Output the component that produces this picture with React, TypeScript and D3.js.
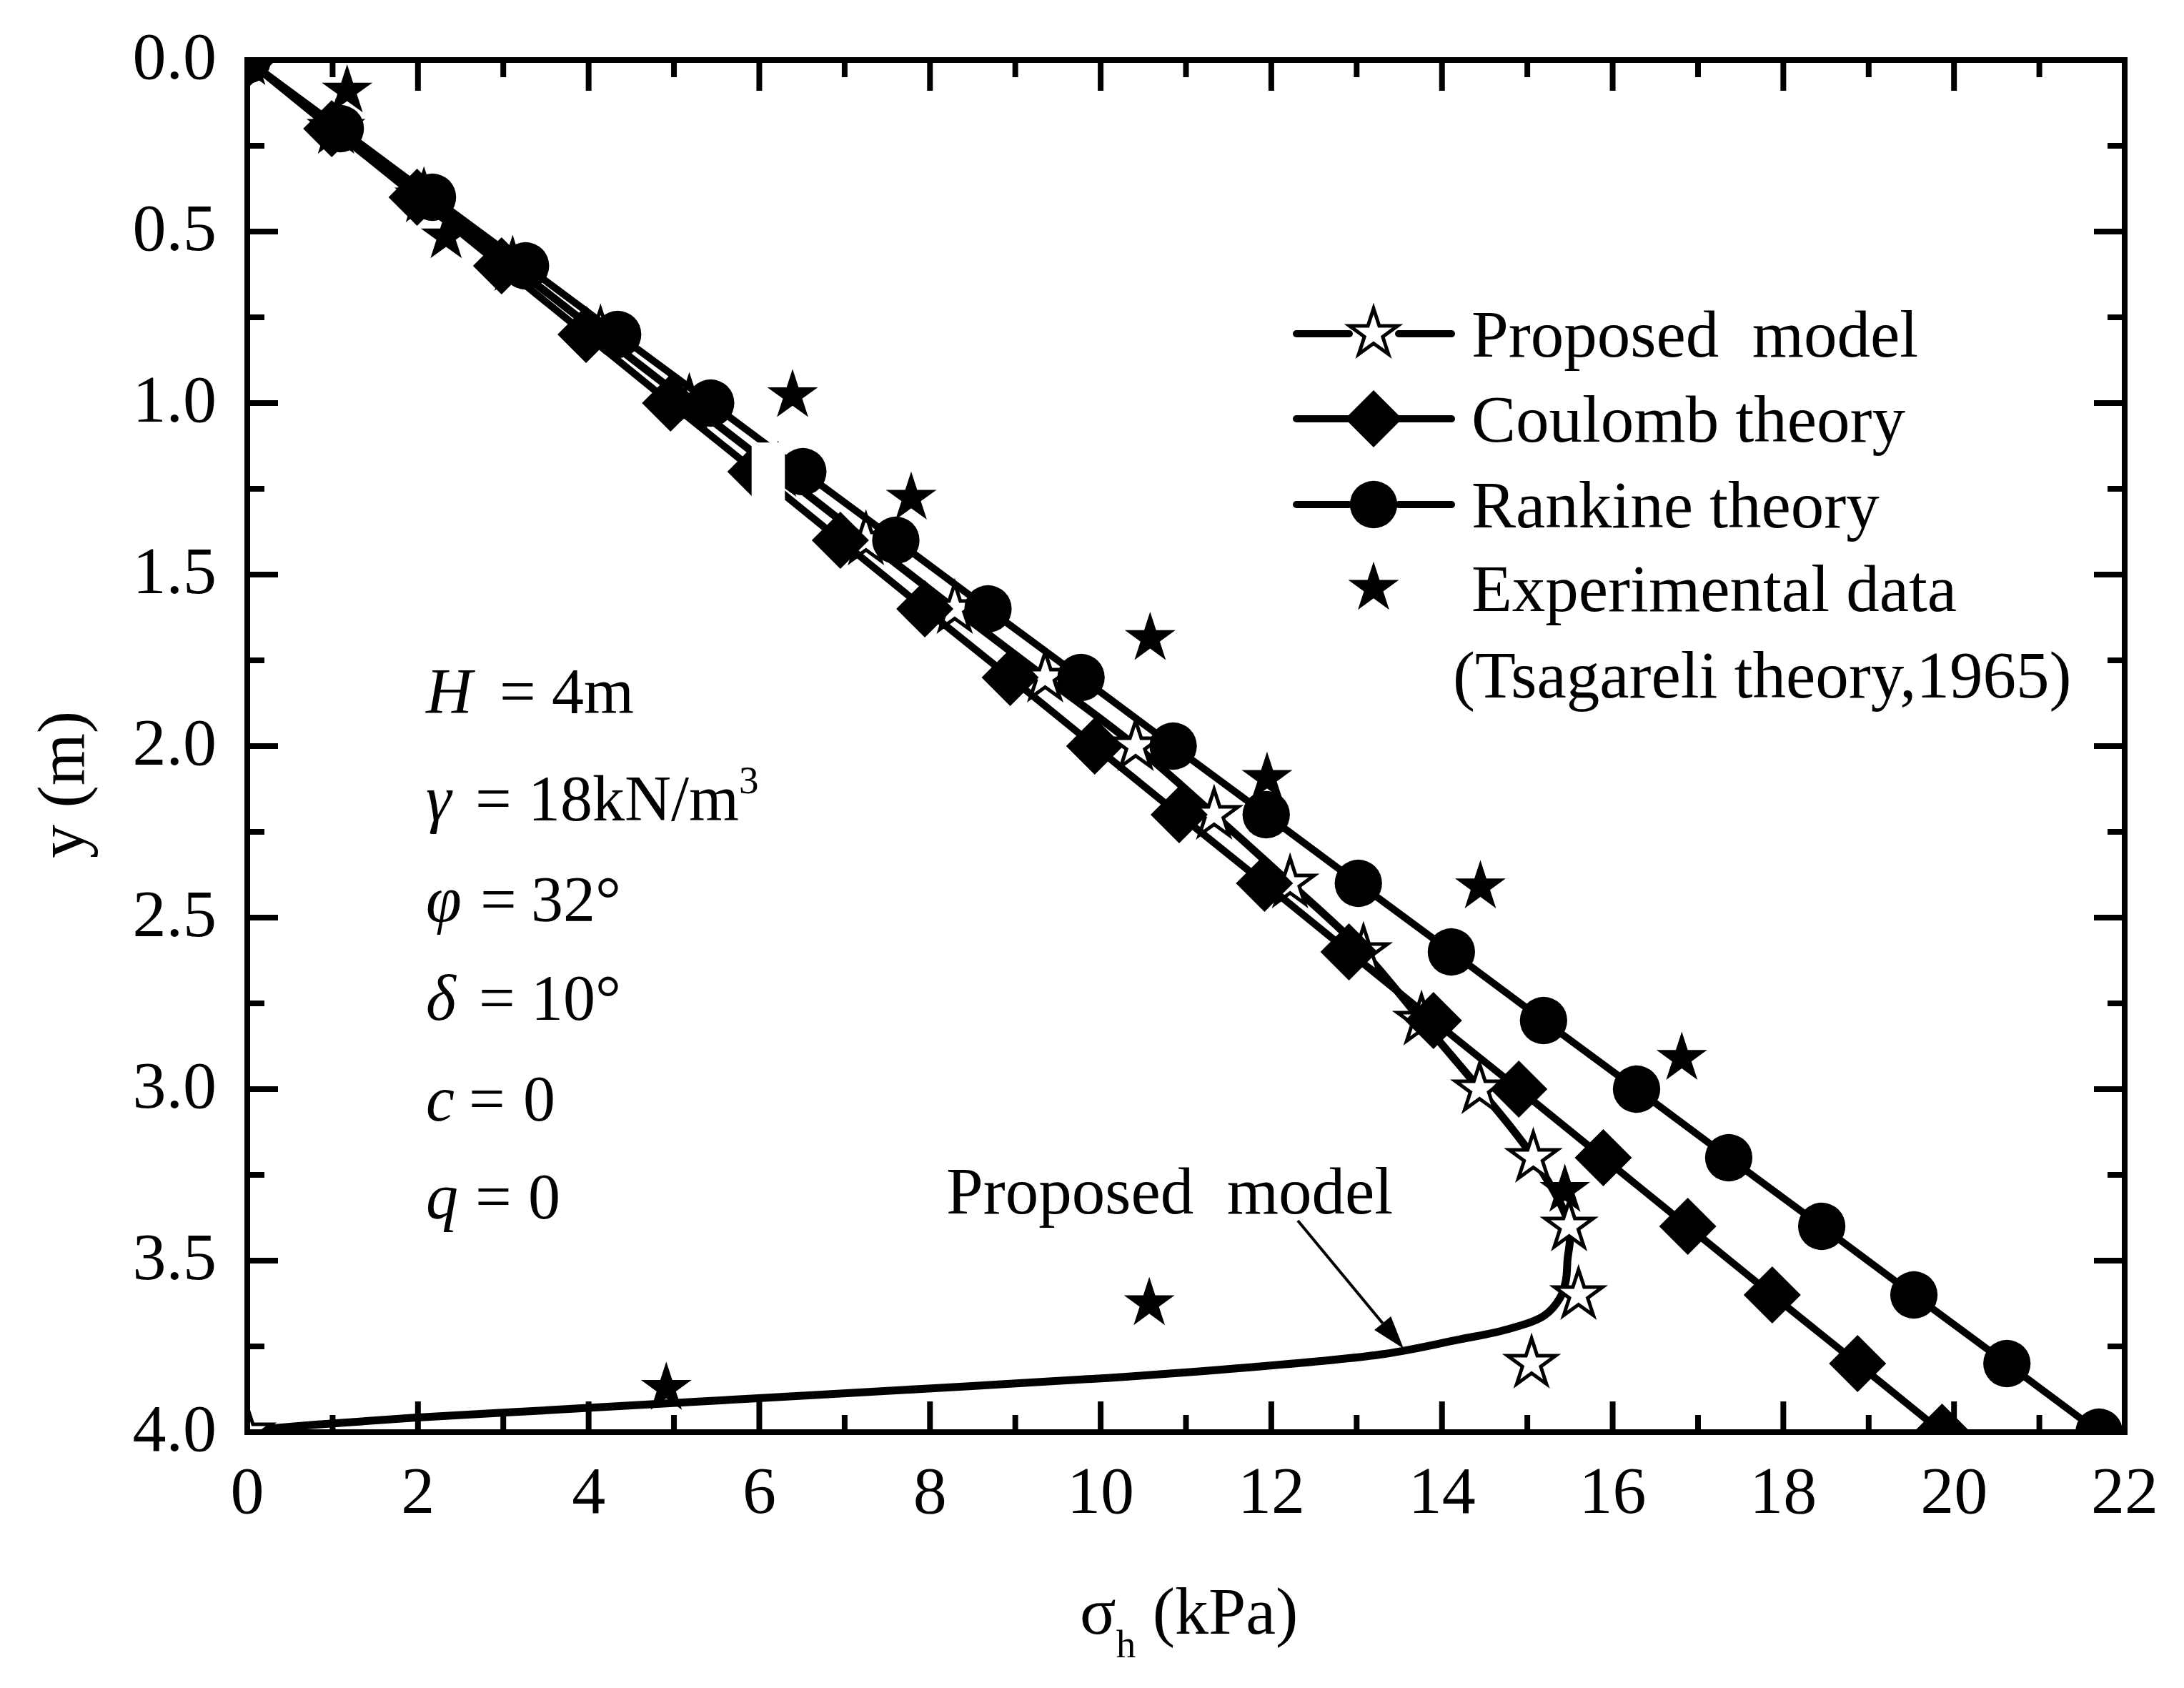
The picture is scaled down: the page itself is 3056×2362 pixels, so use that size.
import React from "react";
import * as d3 from "d3";

// depth below the top of the wall (m), one row per marker
const depthSteps = [0, 0.2, 0.4, 0.6, 0.8, 1.0, 1.2, 1.4, 1.6, 1.8, 2.0, 2.2, 2.4, 2.6, 2.8, 3.0, 3.2, 3.4, 3.6, 3.8, 4.0];

// horizontal earth pressure (kPa)
const coulombSigma = [0, 0.99, 1.99, 2.98, 3.97, 4.96, 5.96, 6.95, 7.94, 8.94, 9.93, 10.92, 11.92, 12.91, 13.9, 14.9, 15.89, 16.88, 17.87, 18.87, 19.86];
const rankineSigma = [0, 1.09, 2.17, 3.26, 4.34, 5.43, 6.51, 7.6, 8.68, 9.77, 10.85, 11.94, 13.02, 14.11, 15.19, 16.28, 17.36, 18.45, 19.53, 20.62, 21.7];
const proposedSigma = [0, 1.04, 2.07, 3.11, 4.14, 5.18, 6.22, 7.25, 8.29, 9.35, 10.41, 11.33, 12.22, 13.08, 13.76, 14.44, 15.07, 15.49, 15.6, 15.05, 0];

// the drawn curve of the proposed model (denser near the base)
const proposedCurveDepth = [0, 0.2, 0.4, 0.6, 0.8, 1.0, 1.2, 1.4, 1.6, 1.8, 2.0, 2.2, 2.4, 2.6, 2.8, 3.0, 3.2, 3.4, 3.5, 3.56, 3.61, 3.66, 3.7, 3.73, 3.772, 3.812, 3.842, 3.866, 3.889, 3.912, 3.935, 3.958, 3.978, 3.995];
const proposedCurveSigma = [0, 1.04, 2.07, 3.11, 4.14, 5.18, 6.22, 7.25, 8.29, 9.35, 10.41, 11.33, 12.22, 13.08, 13.76, 14.44, 15.07, 15.49, 15.47, 15.45, 15.38, 15.2, 14.77, 14.2, 13.33, 11.7, 10.08, 8.46, 6.84, 5.21, 3.59, 1.96, 0.8, 0];

// Tsagareli (1965) experimental points
const expSigma = [1.17, 2.33, 6.39, 7.78, 10.58, 11.95, 14.45, 16.81, 15.44, 10.57, 4.91];
const expDepth = [0.09, 0.515, 0.978, 1.277, 1.686, 2.094, 2.41, 2.91, 3.295, 3.625, 3.872];

const xTickLabels = [0, 2, 4, 6, 8, 10, 12, 14, 16, 18, 20, 22];
const yTickLabels = ["0.0", "0.5", "1.0", "1.5", "2.0", "2.5", "3.0", "3.5", "4.0"];

const legendLabels = ["Proposed  model", "Coulomb theory", "Rankine theory", "Experimental data"];

// white patch that hides part of the curves near y = 1.2 in the original
const maskSigma = [5.91, 6.3];
const maskDepth = [1.115, 1.3];

const W = 3056;
const H = 2362;
const left = 346;
const right = 2973;
const top = 84;
const bottom = 2004;
const FONT = "'Liberation Serif', 'Times New Roman', serif";

const x = d3.scaleLinear().domain([0, 22]).range([left, right]);
const y = d3.scaleLinear().domain([0, 4]).range([top, bottom]);

const starOpen = d3.symbol(d3.symbolStar, 1400)() as string;
const starFilled = d3.symbol(d3.symbolStar, 1560)() as string;
const diamond = d3.symbol(d3.symbolSquare, 3200)() as string;
const circle = d3.symbol(d3.symbolCircle, 3450)() as string;

function Marker({ kind, cx, cy }: { kind: string; cx: number; cy: number }) {
  if (kind === "open")
    return <path d={starOpen} transform={`translate(${cx},${cy})`} fill="#fff" stroke="#000" strokeWidth={5} strokeLinejoin="miter" />;
  if (kind === "diamond")
    return <path d={diamond} transform={`translate(${cx},${cy}) rotate(45)`} fill="#000" />;
  if (kind === "circle") return <path d={circle} transform={`translate(${cx},${cy})`} fill="#000" />;
  return <path d={starFilled} transform={`translate(${cx},${cy})`} fill="#000" />;
}

const params = [
  { v: "H", eq: 699, val: "4m", vx: 772, sup: "" },
  { v: "γ", eq: 665, val: "18kN/m", vx: 739, sup: "3" },
  { v: "φ", eq: 672, val: "32°", vx: 743, sup: "" },
  { v: "δ", eq: 670, val: "10°", vx: 743, sup: "" },
  { v: "c", eq: 656, val: "0", vx: 732, sup: "" },
  { v: "q", eq: 665, val: "0", vx: 739, sup: "" },
];
const paramBaselines = [998, 1148, 1289, 1427, 1568, 1705];

export default function App() {
  const straight = (sig: number[], dep: number[]) =>
    d3.line<number>().x((d) => x(d)).y((_, i) => y(dep[i]))(sig) as string;

  const curve = d3
    .line<number>()
    .x((d) => x(d))
    .y((_, i) => y(proposedCurveDepth[i]))
    .curve(d3.curveCatmullRom.alpha(0.5))(proposedCurveSigma) as string;

  const xMinor = d3.range(1, 22, 2);
  const yMinor = d3.range(0.25, 4, 0.5);
  const yMajor = yTickLabels.map((t) => +t);

  const legendRows = [467, 586, 706, 823];
  const legendKinds = ["open", "diamond", "circle", "filled"];

  // arrow of the "Proposed model" note
  const ax0 = 1816, ay0 = 1708, ax1 = 1964, ay1 = 1887;
  const ang = Math.atan2(ay1 - ay0, ax1 - ax0);
  const hl = 46, hw = 15;
  const bx = ax1 - hl * Math.cos(ang), by = ay1 - hl * Math.sin(ang);
  const head = `M${ax1},${ay1} L${bx + hw * Math.sin(ang)},${by - hw * Math.cos(ang)} L${bx - hw * Math.sin(ang)},${by + hw * Math.cos(ang)} Z`;

  return (
    <div style={{ position: "absolute", left: 0, top: 0, background: "#fff" }}>
      <svg width={W} height={H} viewBox={`0 0 ${W} ${H}`} style={{ display: "block", fontFamily: FONT }}>
        <rect width={W} height={H} fill="#fff" />
        <defs>
          <clipPath id="plot">
            <rect x={left} y={top} width={right - left} height={bottom - top} />
          </clipPath>
        </defs>

        <g clipPath="url(#plot)">
          {/* proposed model */}
          <path d={curve} fill="none" stroke="#000" strokeWidth={11} strokeLinejoin="round" />
          {proposedSigma.map((s, i) => (
            <Marker key={"p" + i} kind="open" cx={x(s)} cy={y(depthSteps[i])} />
          ))}
          {/* Coulomb */}
          <path d={straight(coulombSigma, depthSteps)} fill="none" stroke="#000" strokeWidth={10} />
          {coulombSigma.map((s, i) => (
            <Marker key={"c" + i} kind="diamond" cx={x(s)} cy={y(depthSteps[i])} />
          ))}
          {/* Rankine */}
          <path d={straight(rankineSigma, depthSteps)} fill="none" stroke="#000" strokeWidth={10} />
          {rankineSigma.map((s, i) => (
            <Marker key={"r" + i} kind="circle" cx={x(s)} cy={y(depthSteps[i])} />
          ))}
          <rect
            x={x(maskSigma[0])}
            y={y(maskDepth[0])}
            width={x(maskSigma[1]) - x(maskSigma[0])}
            height={y(maskDepth[1]) - y(maskDepth[0])}
            fill="#fff"
          />
          {expSigma.map((s, i) => (
            <Marker key={"e" + i} kind="filled" cx={x(s)} cy={y(expDepth[i])} />
          ))}
        </g>

        {/* frame and ticks */}
        <rect x={left} y={top} width={right - left} height={bottom - top} fill="none" stroke="#000" strokeWidth={8} />
        <g stroke="#000" strokeWidth={8}>
          {xTickLabels.map((t) => (
            <g key={"xt" + t}>
              <line x1={x(t)} x2={x(t)} y1={bottom} y2={bottom - 43} />
              <line x1={x(t)} x2={x(t)} y1={top} y2={top + 43} />
            </g>
          ))}
          {xMinor.map((t) => (
            <g key={"xm" + t}>
              <line x1={x(t)} x2={x(t)} y1={bottom} y2={bottom - 24} />
              <line x1={x(t)} x2={x(t)} y1={top} y2={top + 24} />
            </g>
          ))}
          {yMajor.map((t) => (
            <g key={"yt" + t}>
              <line x1={left} x2={left + 43} y1={y(t)} y2={y(t)} />
              <line x1={right} x2={right - 43} y1={y(t)} y2={y(t)} />
            </g>
          ))}
          {yMinor.map((t) => (
            <g key={"ym" + t}>
              <line x1={left} x2={left + 24} y1={y(t)} y2={y(t)} />
              <line x1={right} x2={right - 24} y1={y(t)} y2={y(t)} />
            </g>
          ))}
        </g>

        <g fontSize={94} fill="#000">
          {xTickLabels.map((t) => (
            <text key={"xl" + t} x={x(t)} y={2117} textAnchor="middle">
              {t}
            </text>
          ))}
          {yTickLabels.map((t) => (
            <text key={"yl" + t} x={303} y={y(+t) + 26} textAnchor="end">
              {t}
            </text>
          ))}
          <text transform="translate(117,1098) rotate(-90)" textAnchor="middle">
            y (m)
          </text>
          <text x={1511} y={2286}>
            σ<tspan dy={33} fontSize={55}>h</tspan>
            <tspan dy={-33}> (kPa)</tspan>
          </text>
        </g>

        {/* legend */}
        <g>
          {legendRows.map((ry, i) => (
            <g key={"lg" + i}>
              {i < 3 && (
                <g stroke="#000" strokeWidth={10} strokeLinecap="round">
                  <line x1={1814} x2={1888} y1={ry} y2={ry} />
                  <line x1={1957} x2={2031} y1={ry} y2={ry} />
                </g>
              )}
              <Marker kind={legendKinds[i]} cx={1922} cy={ry} />
              <text x={2059} y={ry + 32} fontSize={93} style={{ whiteSpace: "pre" }}>
                {legendLabels[i]}
              </text>
            </g>
          ))}
          <text x={2033} y={976} fontSize={93}>
            (Tsagareli theory,1965)
          </text>
        </g>

        {/* parameters */}
        <g fontSize={90}>
          {params.map((p, i) => (
            <text key={"pm" + i} y={paramBaselines[i]}>
              <tspan x={596} fontStyle="italic">
                {p.v}
              </tspan>
              <tspan x={p.eq}>=</tspan>
              <tspan x={p.vx}>{p.val}</tspan>
              {p.sup && (
                <tspan dy={-38} fontSize={55}>
                  {p.sup}
                </tspan>
              )}
            </text>
          ))}
        </g>

        {/* annotation */}
        <text x={1324} y={1698} fontSize={93} style={{ whiteSpace: "pre" }}>
          Proposed  model
        </text>
        <line x1={ax0} y1={ay0} x2={bx} y2={by} stroke="#000" strokeWidth={4} />
        <path d={head} fill="#000" />
      </svg>
    </div>
  );
}
